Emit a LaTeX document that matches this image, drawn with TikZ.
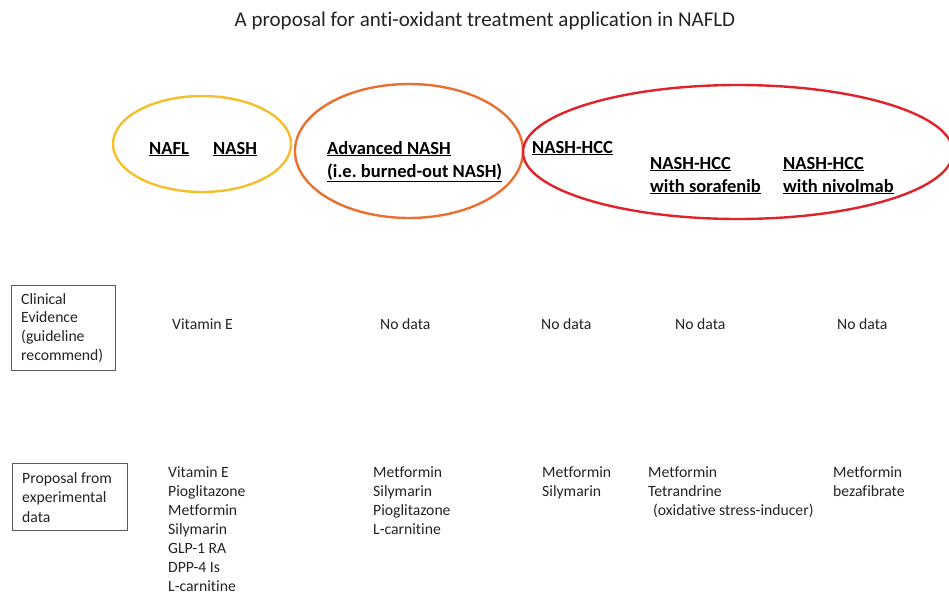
\documentclass[tikz,border=0pt]{standalone}
\usepackage{fontspec}
\setmainfont{Carlito}[Ligatures={NoCommon}]
\definecolor{ellY}{RGB}{244,190,45}
\definecolor{ellO}{RGB}{234,112,50}
\definecolor{ellR}{RGB}{224,35,42}
\definecolor{txt}{RGB}{35,35,35}
\definecolor{boxc}{RGB}{90,90,90}
\newcommand\celltext[1]{\begin{tabular}[t]{@{}l@{}}#1\end{tabular}}
\frenchspacing
\begin{document}
\begin{tikzpicture}[x=1pt,y=-1pt,
  body/.style={anchor=base west, inner sep=0pt, text=txt, font=\fontsize{15.7}{19}\selectfont},
  boxtext/.style={anchor=base west, inner sep=0pt, text=txt},
  head/.style={anchor=base west, inner sep=0pt, text=black, font=\fontsize{18.5}{23}\selectfont\bfseries},
  ell/.style={line width=2.4pt},
  labelbox/.style={draw=boxc, line width=0.9pt}]
\useasboundingbox (0,0) rectangle (949,591);

% title
\node[anchor=base, inner sep=0pt, text=txt, font=\fontsize{21}{25}\selectfont] (title) at (485,27)
  {A proposal for anti-oxidant treatment application in NAFLD};

% ellipses
\draw[ell, draw=ellY] (202,144) ellipse [x radius=89, y radius=48];
\draw[ell, draw=ellO] (409,151) ellipse [x radius=114, y radius=67];
\draw[ell, draw=ellR] (738,152) ellipse [x radius=215, y radius=67];

% headings
\node[head] (nafl) at (149,154) {\underline{NAFL}};
\node[head] (nash) at (213,154) {\underline{NASH}};
\node[head] (adv) at (327,154) {\celltext{\underline{Advanced NASH}\\\underline{(i.e. burned-out NASH)}}};
\node[head] (hcc) at (532,153) {\underline{NASH-HCC}};
\node[head] (sora) at (650,169) {\celltext{\underline{NASH-HCC}\\\underline{with sorafenib}}};
\node[head] (nivo) at (783,169) {\celltext{\underline{NASH-HCC}\\\underline{with nivolmab}}};

% row label boxes
\draw[labelbox] (11,285) rectangle (115,370);
\node[boxtext, font=\fontsize{15.7}{18.7}\selectfont] (clin) at (21,304)
  {\celltext{Clinical\\Evidence\\(guideline\\recommend)}};
\draw[labelbox] (12,463) rectangle (127,530);
\node[boxtext, font=\fontsize{15.7}{19.5}\selectfont] (prop) at (22,483)
  {\celltext{Proposal from\\experimental\\data}};

% row 1
\node[body] (c1) at (172,329) {Vitamin E};
\node[body] (c2) at (380,329) {No data};
\node[body] (c3) at (541,329) {No data};
\node[body] (c4) at (675,329) {No data};
\node[body] (c5) at (837,329) {No data};

% row 2
\node[body] (p1) at (168,477) {\celltext{Vitamin E\\Pioglitazone\\Metformin\\Silymarin\\GLP-1 RA\\DPP-4 Is\\L-carnitine}};
\node[body] (p2) at (373,477) {\celltext{Metformin\\Silymarin\\Pioglitazone\\L-carnitine}};
\node[body] (p3) at (542,477) {\celltext{Metformin\\Silymarin}};
\node[body] (p4) at (648,477) {\celltext{Metformin\\Tetrandrine\\\hspace{5pt}(oxidative stress-inducer)}};
\node[body] (p5) at (833,477) {\celltext{Metformin\\bezafibrate}};
\end{tikzpicture}
\end{document}
